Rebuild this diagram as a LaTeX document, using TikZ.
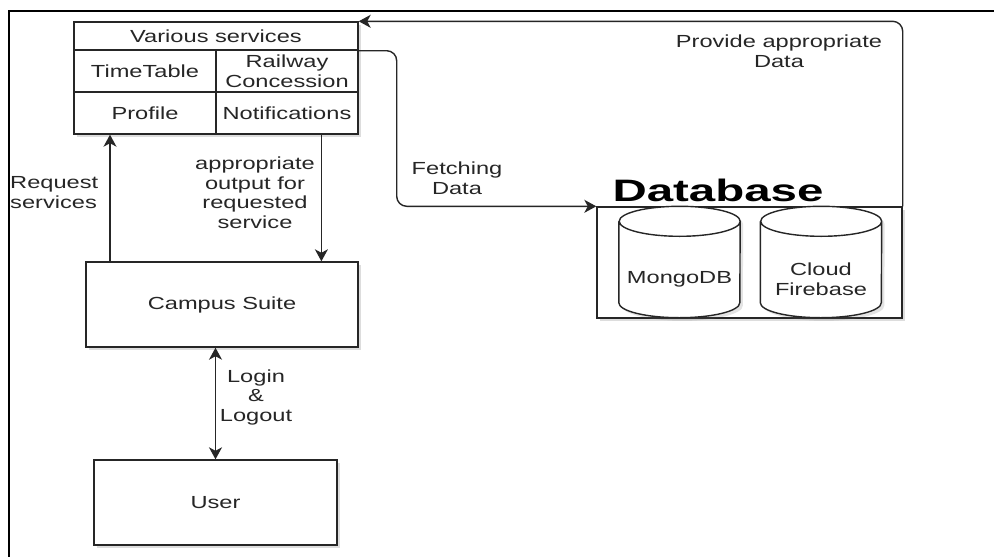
\documentclass[tikz,border=0pt]{standalone}
\usepackage{fontspec}
\setmainfont[FakeStretch=1.35]{Liberation Sans}
\newfontfamily\dbfont[FakeStretch=1.53]{Liberation Sans}
\usetikzlibrary{arrows.meta,shadows,calc}
\begin{document}
\begin{tikzpicture}[x=1pt,y=-1pt,
  font=\fontsize{17.5}{19.5}\selectfont,
  every node/.style={text=black!85},
  box/.style={draw=black!85, line width=1.4pt, fill=white, rectangle, inner sep=0pt, align=center,
    drop shadow={shadow xshift=3pt,shadow yshift=-3pt,opacity=0.22,fill=black!60}},
  cell/.style={draw=black!85, line width=1.4pt, rectangle, inner sep=0pt, align=center},
  cylbox/.style={rectangle, inner sep=0pt, minimum width=121pt, minimum height=111pt},
  cylline/.style={draw=black!85, line width=1.4pt, fill=white},
  lbl/.style={inner sep=0pt, align=center},
  arr/.style={draw=black!85, line width=1.4pt, -{Stealth[length=12pt,width=13pt,inset=3.5pt]}},
  arrb/.style={draw=black!85, line width=1.4pt, {Stealth[length=12pt,width=13pt,inset=3.5pt]}-{Stealth[length=12pt,width=13pt,inset=3.5pt]}}
]
\useasboundingbox (0,0) rectangle (994,557);
\fill[white] (0,0) rectangle (994,557);
% frame
\draw[line width=2pt, black] (9,557) -- (9,11) -- (994,11);

% services table
\node[box, minimum width=284pt, minimum height=112pt] (svc) at (216,78) {};
\node[cell, minimum width=284pt, minimum height=28pt] (hdr) at (216,36) {Various services};
\node[cell, minimum width=142pt, minimum height=42pt] (tt) at (145,71) {TimeTable};
\node[cell, minimum width=142pt, minimum height=42pt] (rc) at (287,71) {Railway\\Concession};
\node[cell, minimum width=142pt, minimum height=42pt] (prof) at (145,113) {Profile};
\node[cell, minimum width=142pt, minimum height=42pt] (notif) at (287,113) {Notifications};

% campus suite and user
\node[box, minimum width=272pt, minimum height=85pt] (cs) at (222,304.5) {Campus Suite};
\node[box, minimum width=243pt, minimum height=85pt] (user) at (215.5,502.5) {User};

% database
\node[box, minimum width=305pt, minimum height=111pt] (db) at (749.5,262.5) {};
\node[lbl, font=\dbfont\bfseries\fontsize{31}{31}\selectfont, anchor=base, text=black] (dblbl) at (718,201) {Database};

\node[cylbox] (mongo) at (679.5,262) {};
\node[cylbox] (cloud) at (821,262) {};
\foreach \c in {mongo,cloud}{
  \draw[cylline, drop shadow={shadow xshift=3pt,shadow yshift=-3pt,opacity=0.18,fill=black!60}]
    ([yshift=-15pt]\c.north west) -- ([yshift=15pt]\c.south west)
    arc[start angle=180,end angle=360,x radius=60.5pt,y radius=15pt]
    -- ([yshift=-15pt]\c.north east)
    arc[start angle=0,end angle=180,x radius=60.5pt,y radius=15pt]
    arc[start angle=180,end angle=360,x radius=60.5pt,y radius=15pt];
}
\node[lbl] (mongolbl) at ([yshift=-17pt]mongo.center) {MongoDB};
\node[lbl] (cloudlbl) at ([yshift=-17pt]cloud.center) {Cloud\\Firebase};

% connectors
\draw[arr] ([xshift=24.7pt]cs.north west) -- ([xshift=24.7pt]cs.north west |- svc.south);
\draw[arr] ([xshift=-37.3pt]svc.south east) -- ([xshift=-37.3pt]svc.south east |- cs.north);
\draw[arrb] (user.north |- cs.south) -- (user.north);
\draw[arr, rounded corners=10pt] (hdr.south east) -- ++(38,0) |- (db.north west);
\draw[arr, rounded corners=10pt] (db.north east) |- (svc.north east);

% labels
\node[lbl, anchor=west, align=left] (reqlbl) at (10,192.5) {Request\\services};
\node[lbl] (outlbl) at (255,192.5) {appropriate\\output for\\requested\\service};
\node[lbl] (loglbl) at (256,397) {Login\\\&\\Logout};
\node[lbl] (fetchlbl) at (457,178) {Fetching\\Data};
\node[lbl] (provlbl) at (779,51) {Provide appropriate\\Data};
\end{tikzpicture}
\end{document}
